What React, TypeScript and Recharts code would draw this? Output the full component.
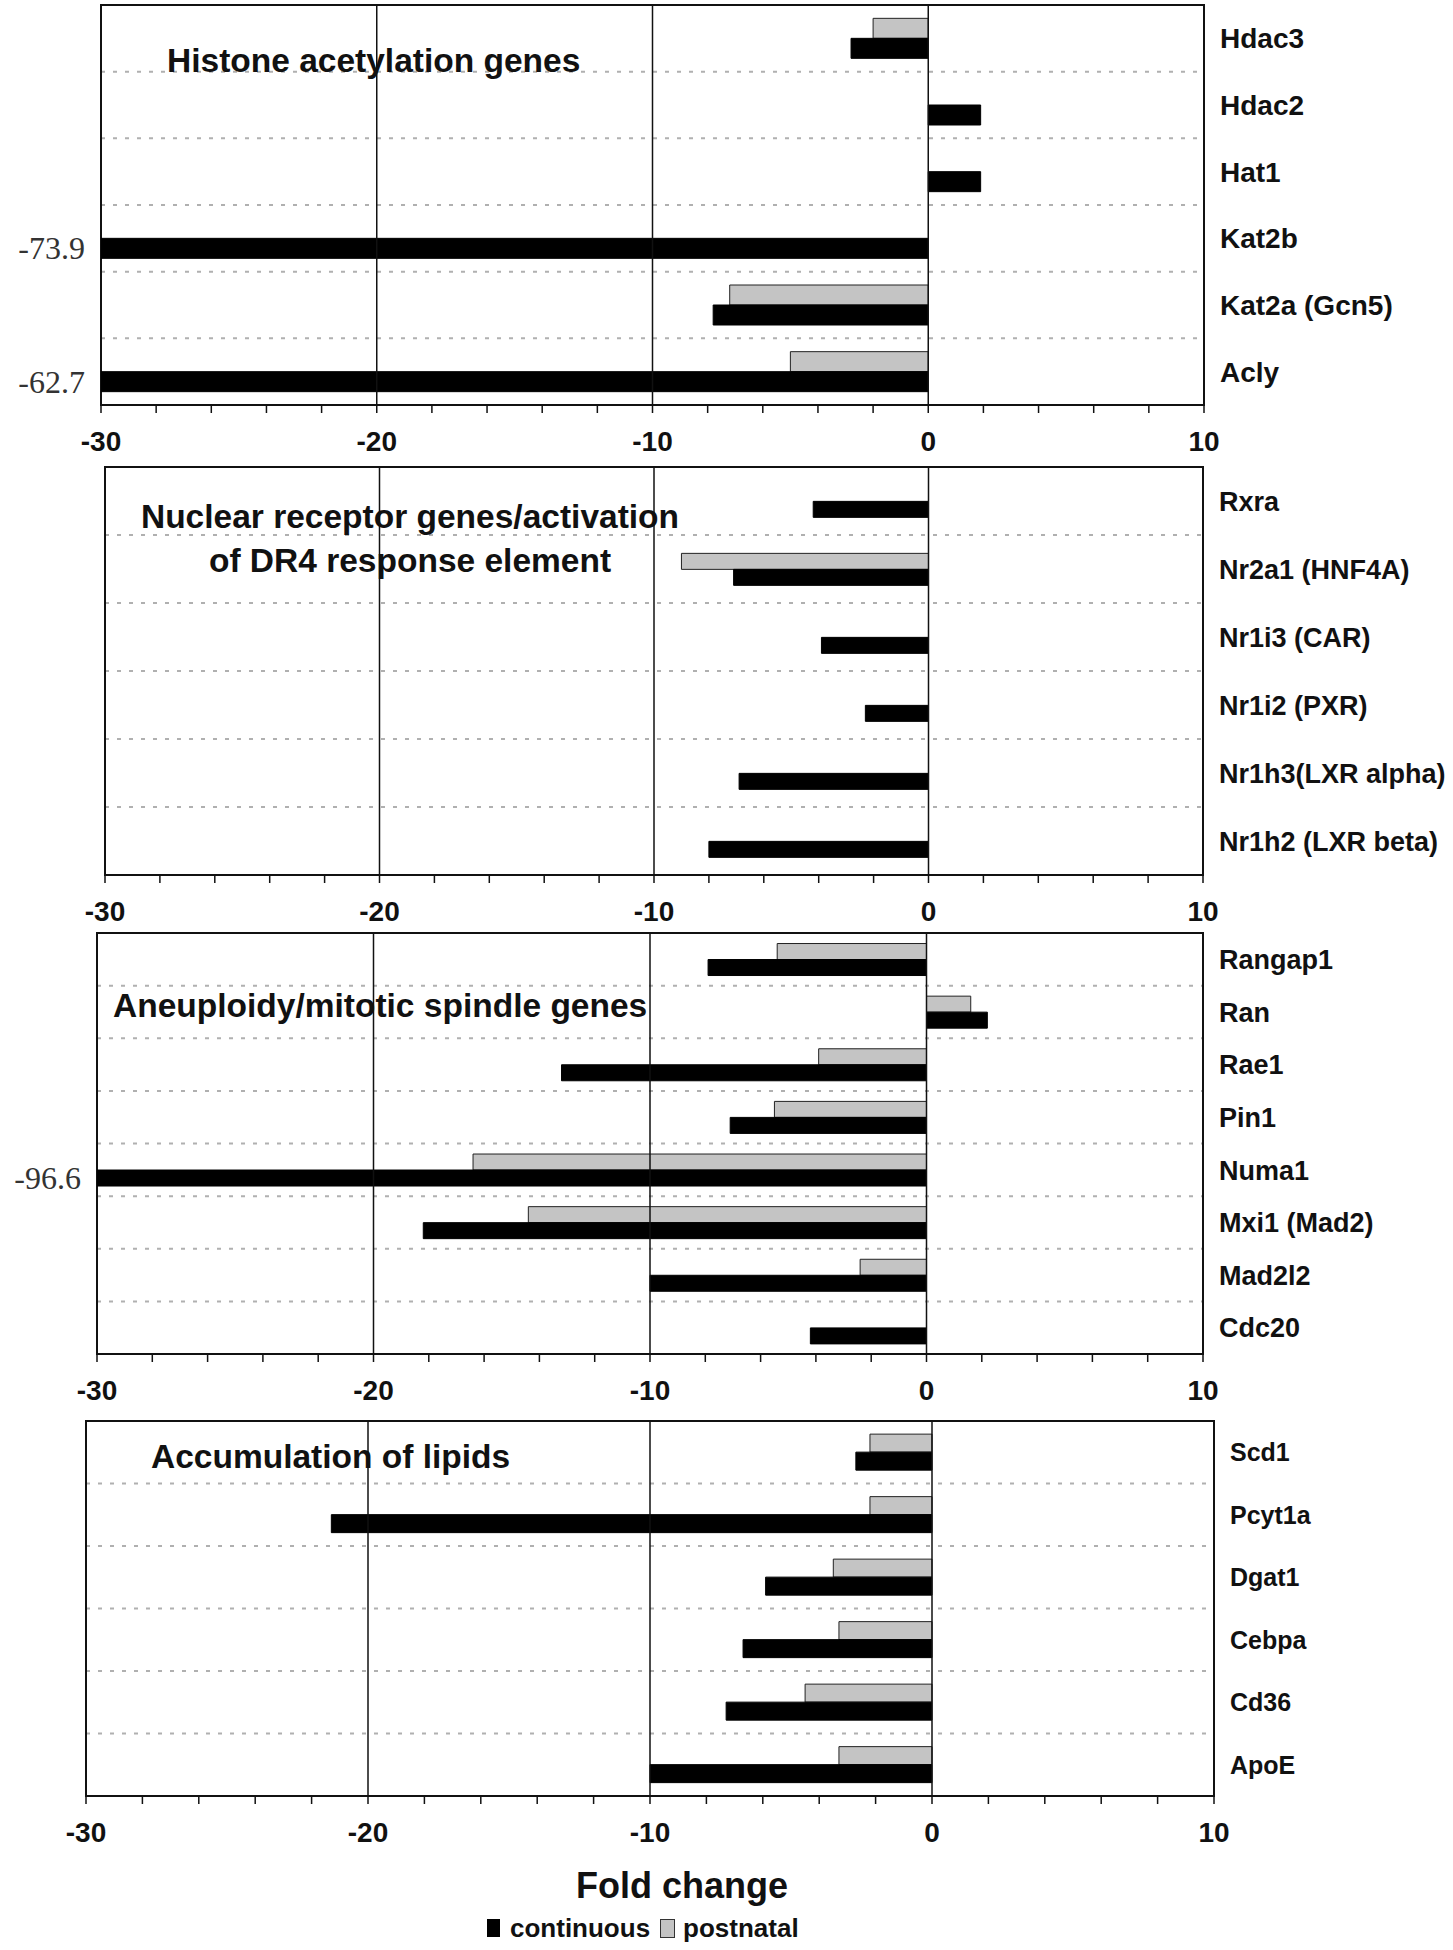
import React from "react";
import {
  BarChart,
  Bar,
  XAxis,
  YAxis,
  CartesianGrid,
  ReferenceLine,
  ReferenceArea,
  LabelList,
  Label,
} from "recharts";

// ---- data (fold change) ----
const histoneGenes = ["Hdac3", "Hdac2", "Hat1", "Kat2b", "Kat2a (Gcn5)", "Acly"];
const histoneContinuous = [-2.8, 1.9, 1.9, -73.9, -7.8, -62.7];
const histonePostnatal = [-2.0, null, null, null, -7.2, -5.0];

const nuclearGenes = [
  "Rxra",
  "Nr2a1 (HNF4A)",
  "Nr1i3 (CAR)",
  "Nr1i2 (PXR)",
  "Nr1h3(LXR alpha)",
  "Nr1h2 (LXR beta)",
];
const nuclearContinuous = [-4.2, -7.1, -3.9, -2.3, -6.9, -8.0];
const nuclearPostnatal = [null, -9.0, null, null, null, null];

const spindleGenes = ["Rangap1", "Ran", "Rae1", "Pin1", "Numa1", "Mxi1 (Mad2)", "Mad2l2", "Cdc20"];
const spindleContinuous = [-7.9, 2.2, -13.2, -7.1, -96.6, -18.2, -10.0, -4.2];
const spindlePostnatal = [-5.4, 1.6, -3.9, -5.5, -16.4, -14.4, -2.4, null];

const lipidGenes = ["Scd1", "Pcyt1a", "Dgat1", "Cebpa", "Cd36", "ApoE"];
const lipidContinuous = [-2.7, -21.3, -5.9, -6.7, -7.3, -10.0];
const lipidPostnatal = [-2.2, -2.2, -3.5, -3.3, -4.5, -3.3];

const axisTicks = [-30, -28, -26, -24, -22, -20, -18, -16, -14, -12, -10, -8, -6, -4, -2, 0, 2, 4, 6, 8, 10];
const tickLabels = [-30, -20, -10, 0, 10];
const gridValues = [-20, -10, 0];
const seriesNames = ["continuous", "postnatal"];

const SANS = '"Liberation Sans", Arial, Helvetica, sans-serif';
const SERIF = '"Liberation Serif", "Times New Roman", serif';
const GRAY = "#c4c4c4";
const MT = 4;

type TitleLine = { text: string; x: number; y: number; anchor?: "start" | "middle" };

interface PanelProps {
  genes: string[];
  continuous: number[];
  postnatal: (number | null)[];
  top: number;
  left: number;
  right: number;
  plotH: number;
  labelSize: number;
  gap: string;
  titles: TitleLine[];
  xh?: number;
  fold?: boolean;
}

const XTick = (props: any) => {
  const { x, y, payload } = props;
  if (!tickLabels.includes(payload.value)) return <g />;
  return (
    <text x={x} y={y} dy={36} textAnchor="middle" fontFamily={SANS} fontWeight="bold" fontSize={28} fill="#111">
      {payload.value}
    </text>
  );
};

const Panel = ({ genes, continuous, postnatal, top, left, right, plotH, labelSize, gap, titles, xh = 56, fold }: PanelProps) => {
  const data = genes.map((gene, i) => ({
    gene,
    continuous: continuous[i],
    postnatal: postnatal[i],
  }));
  const height = MT + plotH + xh;
  const n = genes.length;
  const rowLines = genes.slice(1).map((_, i) => MT + ((i + 1) * plotH) / n);

  const YTick = (p: any) => (
    <text x={p.x + 16} y={p.y} dy={labelSize * 0.36} textAnchor="start" fontFamily={SANS} fontWeight="bold" fontSize={labelSize} fill="#111">
      {p.payload.value}
    </text>
  );

  const offLabel = (p: any) => {
    if (p.value == null || p.value >= -30) return null;
    const cy = p.y + p.height / 2;
    return (
      <text x={left - 16} y={cy} dy={11} textAnchor="end" fontFamily={SERIF} fontSize={32} fill="#333">
        {p.value}
      </text>
    );
  };

  return (
    <div style={{ position: "absolute", left: 0, top: top - MT }}>
      <BarChart
        layout="vertical"
        width={1453}
        height={height}
        data={data}
        margin={{ top: MT, right: 0, bottom: 0, left }}
        barCategoryGap={gap}
        barGap={0}
      >
        <CartesianGrid vertical={false} horizontalPoints={rowLines} stroke="#b0b0b0" strokeWidth={2} strokeDasharray="4 8" />
        <XAxis
          type="number"
          domain={[-30, 10]}
          ticks={axisTicks}
          interval={0}
          allowDataOverflow
          height={xh}
          tickSize={8}
          tick={<XTick />}
          axisLine={{ stroke: "#111", strokeWidth: 2 }}
          tickLine={{ stroke: "#111", strokeWidth: 1.5 }}
        >
          {fold && (
            <Label
              content={(p: any) => (
                <text x={p.viewBox.x + 596} y={p.viewBox.y + 102} textAnchor="middle" fontFamily={SANS} fontWeight="bold" fontSize={36} fill="#111">
                  Fold change
                </text>
              )}
            />
          )}
        </XAxis>
        <YAxis
          type="category"
          dataKey="gene"
          orientation="right"
          width={1453 - right}
          axisLine={false}
          tickLine={false}
          tickSize={0}
          tickMargin={0}
          interval={0}
          tick={<YTick />}
        />
        {gridValues.map((v) => (
          <ReferenceLine key={v} x={v} stroke="#111" strokeWidth={1.5} />
        ))}
        <ReferenceArea x1={-30} x2={10} fill="none" fillOpacity={0} stroke="#111" strokeWidth={2} />
        <Bar dataKey="postnatal" name={seriesNames[1]} fill={GRAY} stroke="#222" strokeWidth={1} isAnimationActive={false} />
        <Bar dataKey="continuous" name={seriesNames[0]} fill="#000" stroke="#000" strokeWidth={1} isAnimationActive={false}>
          <LabelList dataKey="continuous" content={offLabel} />
        </Bar>
        {titles.map((t) => (
          <text
            key={t.text}
            x={t.x}
            y={t.y}
            textAnchor={t.anchor ?? "start"}
            fontFamily={SANS}
            fontWeight="bold"
            fontSize={33.5}
            fill="#111"
          >
            {t.text}
          </text>
        ))}
      </BarChart>
    </div>
  );
}

export default function App() {
  return (
    <div style={{ position: "absolute", left: 0, top: 0, width: 1453, height: 1950, background: "#fff" }}>
      <Panel
        genes={histoneGenes}
        continuous={histoneContinuous}
        postnatal={histonePostnatal}
        top={5}
        left={101}
        right={1204}
        plotH={400}
        labelSize={28}
        gap="20%"
        titles={[{ text: "Histone acetylation genes", x: 167, y: 71 }]}
      />
      <Panel
        genes={nuclearGenes}
        continuous={nuclearContinuous}
        postnatal={nuclearPostnatal}
        top={467}
        left={105}
        right={1203}
        plotH={408}
        labelSize={27}
        gap="27%"
        titles={[
          { text: "Nuclear receptor genes/activation", x: 410, y: 65, anchor: "middle" },
          { text: "of DR4 response element", x: 410, y: 109, anchor: "middle" },
        ]}
      />
      <Panel
        genes={spindleGenes}
        continuous={spindleContinuous}
        postnatal={spindlePostnatal}
        top={933}
        left={97}
        right={1203}
        plotH={421}
        labelSize={27}
        gap="20%"
        titles={[{ text: "Aneuploidy/mitotic spindle genes", x: 113, y: 88 }]}
      />
      <Panel
        genes={lipidGenes}
        continuous={lipidContinuous}
        postnatal={lipidPostnatal}
        top={1421}
        left={86}
        right={1214}
        plotH={375}
        labelSize={25}
        gap="21%"
        xh={110}
        fold
        titles={[{ text: "Accumulation of lipids", x: 151, y: 51 }]}
      />
      <div
        style={{
          position: "absolute",
          left: 487,
          top: 1912,
          display: "flex",
          alignItems: "center",
          fontFamily: SANS,
          fontWeight: "bold",
          fontSize: 26,
          color: "#111",
          lineHeight: "32px",
        }}
      >
        <span style={{ display: "inline-block", width: 13, height: 18, background: "#000", marginRight: 10 }} />
        <span>{seriesNames[0]}</span>
        <span
          style={{
            display: "inline-block",
            width: 13,
            height: 17,
            background: GRAY,
            border: "1px solid #333",
            marginLeft: 10,
            marginRight: 8,
          }}
        />
        <span>{seriesNames[1]}</span>
      </div>
    </div>
  );
}
